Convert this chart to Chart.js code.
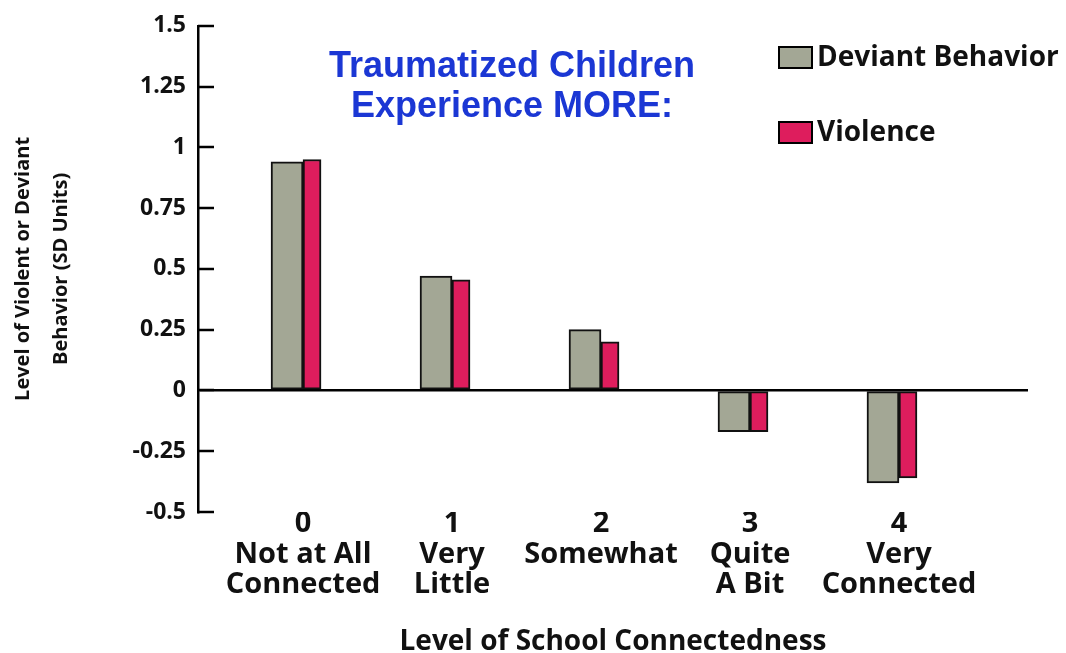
<!DOCTYPE html>
<html>
<head>
<meta charset="utf-8">
<title>School Connectedness</title>
<script src="https://cdn.jsdelivr.net/npm/chart.js@4.4.1/dist/chart.umd.min.js"></script>
<style>
  html, body { margin: 0; padding: 0; background: #fff; }
  #wrap { position: relative; width: 1066px; height: 653px; }
</style>
</head>
<body>
<div id="wrap"><canvas id="myChart" width="1066" height="653"></canvas></div>
<script>
// values
const levelCodes = [0, 1, 2, 3, 4];
const levelNames = [['Not at All', 'Connected'], ['Very', 'Little'], ['Somewhat'], ['Quite', 'A Bit'], ['Very', 'Connected']];
const deviant = [0.94, 0.47, 0.25, -0.17, -0.38];
const violence = [0.95, 0.455, 0.2, -0.17, -0.36];
const seriesNames = ['Deviant Behavior', 'Violence'];
const titleLines = ['Traumatized Children', 'Experience MORE:'];

const grayCol = '#a3a795';
const pinkCol = '#de1d5d';
const font = 'Open Sans';

// inward y ticks, legend and blue heading
const extras = {
  id: 'extras',
  afterDraw(chart) {
    const ctx = chart.ctx;
    const y = chart.scales.y;
    const area = chart.chartArea;
    ctx.save();
    ctx.strokeStyle = '#000';
    ctx.lineWidth = 2.5;
    y.ticks.forEach(t => {
      const py = Math.round(y.getPixelForValue(t.value));
      ctx.beginPath();
      ctx.moveTo(area.left, py);
      ctx.lineTo(area.left + 16, py);
      ctx.stroke();
    });

    // legend
    const cols = [grayCol, pinkCol];
    const rows = [57, 132];
    ctx.font = 'bold 28px "' + font + '"';
    ctx.textBaseline = 'middle';
    ctx.textAlign = 'left';
    for (let i = 0; i < seriesNames.length; i++) {
      ctx.fillStyle = cols[i];
      ctx.fillRect(779, rows[i] - 10, 33, 21);
      ctx.lineWidth = 2;
      ctx.strokeRect(779, rows[i] - 10, 33, 21);
      ctx.fillStyle = '#111';
      ctx.fillText(seriesNames[i], 817, rows[i] + 1);
    }

    // heading
    ctx.fillStyle = '#1b37d4';
    ctx.font = 'bold 36px "Liberation Sans"';
    ctx.textAlign = 'center';
    ctx.fillText(titleLines[0], 512, 67);
    ctx.fillText(titleLines[1], 512, 107);
    ctx.restore();
  }
};

const data = {
  datasets: [{
    label: seriesNames[0],
    data: levelCodes.map((c, i) => ({ x: c, y: deviant[i] })),
    backgroundColor: grayCol,
    borderColor: '#111',
    borderWidth: 2,
    borderSkipped: false,
    barThickness: 32
  }, {
    label: seriesNames[1],
    data: levelCodes.map((c, i) => ({ x: c, y: violence[i] })),
    backgroundColor: pinkCol,
    borderColor: '#111',
    borderWidth: 2,
    borderSkipped: false,
    barThickness: 18
  }]
};

const config = {
  type: 'bar',
  data: data,
  options: {
    responsive: false,
    animation: false,
    layout: { padding: { top: 24, right: 38, bottom: 0, left: 0 } },
    plugins: {
      legend: { display: false },
      tooltip: { enabled: false }
    },
    scales: {
      x: {
        type: 'linear',
        offset: false,
        min: -0.705,
        max: 4.866,
        afterBuildTicks: s => { s.ticks = levelCodes.map(v => ({ value: v })); },
        afterFit: s => { s.height = 141; },
        grid: { display: false, drawTicks: false },
        border: { display: false },
        ticks: {
          autoSkip: false,
          maxRotation: 0,
          padding: -3,
          color: '#111',
          font: { family: font, weight: 'bold', size: 29, lineHeight: 1.05 },
          callback: v => [String(v)].concat(levelNames[v])
        },
        title: {
          display: true,
          text: 'Level of School Connectedness',
          color: '#111',
          font: { family: font, weight: 'bold', size: 28 },
          padding: { top: 0, bottom: -6 }
        }
      },
      y: {
        min: -0.5,
        max: 1.5,
        afterFit: s => { s.width = 198; },
        ticks: {
          stepSize: 0.25,
          padding: 12,
          color: '#111',
          font: { family: font, weight: 'bold', size: 23 },
          callback: v => String(+v.toFixed(2))
        },
        grid: {
          drawTicks: false,
          lineWidth: 2.5,
          color: c => (c.tick && c.tick.value === 0) ? '#000' : 'rgba(0,0,0,0)'
        },
        border: { display: true, color: '#000', width: 2.5 },
        title: {
          display: true,
          text: ['Level of Violent or Deviant', 'Behavior (SD Units)'],
          color: '#111',
          font: { family: font, weight: 'bold', size: 20, lineHeight: 1.9 },
          padding: { top: 4, bottom: 0 }
        }
      }
    }
  },
  plugins: [extras]
};

const myChart = new Chart(document.getElementById('myChart'), config);
</script>
</body>
</html>
